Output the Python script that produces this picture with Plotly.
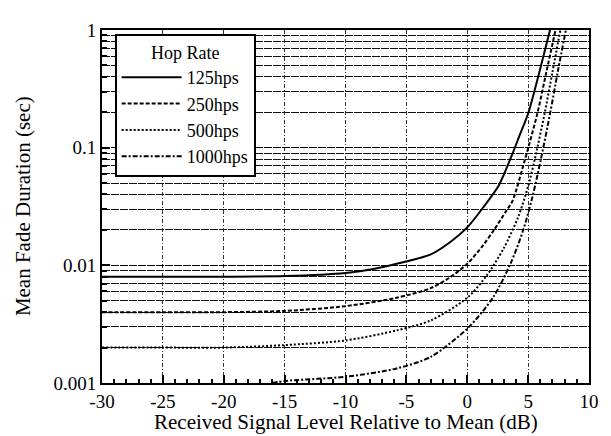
import plotly.graph_objects as go

# ---- data ----
x_125 = [-30, -25, -20, -15, -10, -7.5, -5.8, -3, -1.5, 0, 1.3, 2.6, 3.6, 4.3, 5.0, 5.9, 6.8]
y_125 = [0.0080, 0.0080, 0.0080, 0.0081, 0.0086, 0.0094, 0.0103, 0.0124, 0.0155, 0.0210,
         0.0310, 0.0480, 0.0830, 0.127, 0.195, 0.43, 1.0]

x_250 = [-30, -25, -20, -15, -10, -5.8, -3, -1.5, 0, 1.3, 2.2, 3.2, 3.7, 4.75, 5.75, 6.5, 7.25]
y_250 = [0.0040, 0.0040, 0.0040, 0.0041, 0.0045, 0.0053, 0.0064, 0.0078, 0.0103, 0.0148,
         0.0200, 0.0290, 0.0350, 0.080, 0.194, 0.44, 1.0]

x_500 = [-30, -25, -20, -15, -10, -5.8, -3, 0, 1.6, 3.0, 4.2, 5.05, 5.55, 6.35, 7.0, 7.65]
y_500 = [0.0020, 0.0020, 0.0020, 0.0021, 0.0023, 0.0028, 0.0034, 0.0053, 0.0082, 0.0140,
         0.0260, 0.049, 0.080, 0.194, 0.44, 1.0]

x_1000 = [-16, -15, -10, -5.8, -3, 0, 2.1, 3.6, 4.6, 5.35, 6.05, 6.8, 7.45, 8.1]
y_1000 = [0.00100, 0.00104, 0.00113, 0.00133, 0.00167, 0.0029, 0.0053, 0.0106, 0.020,
          0.038, 0.080, 0.194, 0.45, 1.0]

series_names = ["125hps", "250hps", "500hps", "1000hps"]
legend_title = "Hop Rate"

x_ticks = [-30, -25, -20, -15, -10, -5, 0, 5, 10]
x_tick_text = ["-30", "-25", "-20", "-15", "-10", "-5", "0", "5", "10"]
y_ticks = [0.001, 0.01, 0.1, 1]
y_tick_text = ["0.001", "0.01", "0.1", "1"]
y_minor = [k * 10 ** e for e in (-3, -2, -1) for k in range(2, 10)]

x_title = "Received Signal Level Relative to Mean (dB)"
y_title = "Mean Fade Duration (sec)"

FONT = "Liberation Serif, Times New Roman, serif"

fig = go.Figure()
styles = [
    dict(dash="solid", width=2),
    dict(dash="4px,2px", width=2),
    dict(dash="2px,2px", width=2),
    dict(dash="5px,2px,2px,2px", width=2),
]
for xs, ys, name, st in zip([x_125, x_250, x_500, x_1000],
                            [y_125, y_250, y_500, y_1000],
                            series_names, styles):
    fig.add_trace(go.Scatter(x=xs, y=ys, mode="lines", name=name,
                             line=dict(color="black", dash=st["dash"], width=st["width"],
                                       shape="spline", smoothing=0.8)))

# page body has an 8px margin, so the figure is sized/offset to compensate
fig.update_layout(
    width=603, height=428,
    margin=dict(l=94, r=18, t=14, b=53),
    paper_bgcolor="white", plot_bgcolor="white",
    font=dict(family=FONT, color="black", size=18),
    showlegend=True,
    legend=dict(
        x=0.026, y=0.99, xanchor="left", yanchor="top",
        bgcolor="white", bordercolor="black", borderwidth=2,
        font=dict(family=FONT, size=18, color="black"),
        title=dict(text=legend_title, side="top center", font=dict(family=FONT, size=18)),
        itemwidth=60, tracegroupgap=0,
    ),
    annotations=[
        dict(text=x_title, xref="paper", yref="paper", x=0.5, y=-0.072,
             xanchor="center", yanchor="top", showarrow=False,
             font=dict(family=FONT, size=21, color="black")),
        dict(text=y_title, xref="paper", yref="paper", x=-0.163, y=0.5,
             xanchor="center", yanchor="middle", showarrow=False, textangle=-90,
             font=dict(family=FONT, size=21, color="black")),
    ],
)

fig.update_xaxes(
    range=[-30, 10], tickmode="array", tickvals=x_ticks, ticktext=x_tick_text,
    ticks="inside", ticklen=8, tickwidth=1.5, tickcolor="black",
    showline=True, linewidth=2, linecolor="black", mirror=True,
    showgrid=True, gridcolor="#333", gridwidth=1, griddash="4px,2px,1px,2px",
    zeroline=False,
    tickfont=dict(family=FONT, size=19, color="black"),
    minor=dict(dtick=1, tick0=0, ticks="inside", ticklen=4, tickcolor="black", showgrid=False),
)

fig.update_yaxes(
    type="log", range=[-3, 0], tickmode="array", tickvals=y_ticks, ticktext=y_tick_text,
    ticks="inside", ticklen=8, tickwidth=1.5, tickcolor="black",
    showline=True, linewidth=2, linecolor="black", mirror=True,
    showgrid=True, gridcolor="#000", gridwidth=1.2, griddash="8px,1px",
    zeroline=False,
    tickfont=dict(family=FONT, size=19, color="black"),
    minor=dict(tickmode="array", tickvals=y_minor, ticks="inside", ticklen=5, tickcolor="black",
               showgrid=True, gridcolor="#111", gridwidth=1.2, griddash="8px,1px"),
)

fig.write_html("out.html")
